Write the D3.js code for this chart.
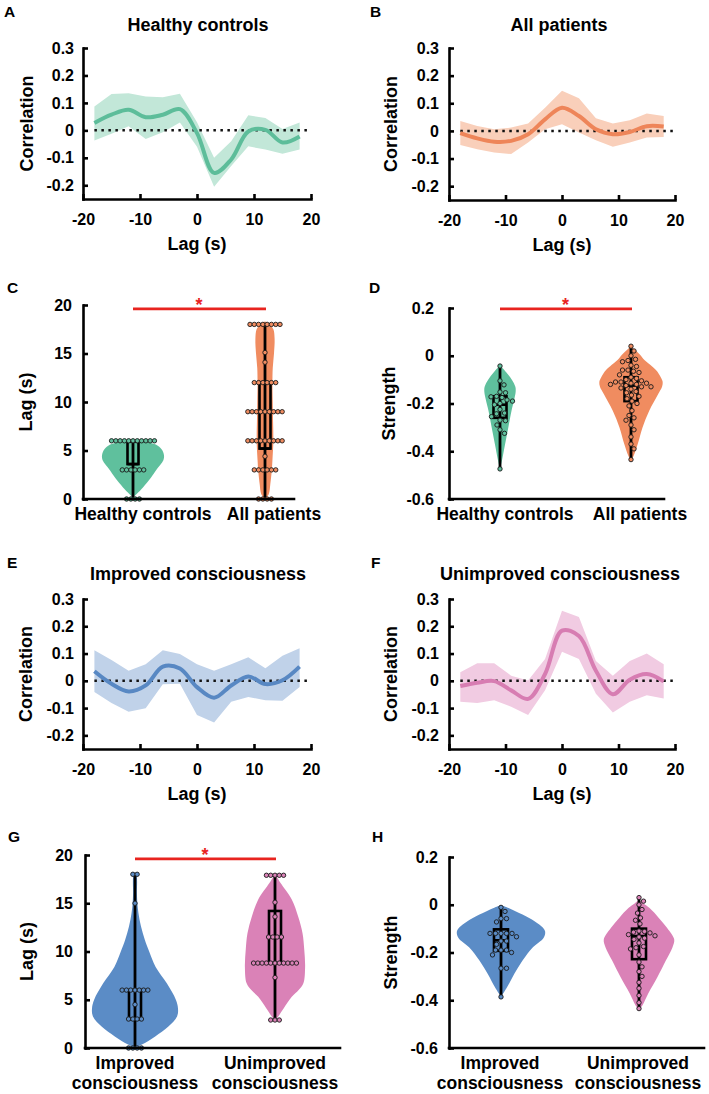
<!DOCTYPE html>
<html><head><meta charset="utf-8">
<script src="https://cdn.jsdelivr.net/npm/d3@7"></script>
<style>body{margin:0;background:#fff}</style>
</head><body>
<script>
// ---------------- DATA ----------------
const lags = [-18,-15,-12,-9,-6,-3,0,3,6,9,12,15,18];
const xTicksLag = [-20,-10,0,10,20];
const yTicksCorr = [-0.2,-0.1,0,0.1,0.2,0.3];

const hcMean  = [0.027,0.057,0.075,0.048,0.057,0.077,-0.01,-0.155,-0.106,-0.004,0.002,-0.044,-0.022];
const hcUpper = [0.087,0.132,0.135,0.123,0.121,0.133,0.03,-0.1,-0.04,0.055,0.045,0.005,0.029];
const hcLower = [-0.037,-0.012,0.015,-0.031,-0.007,0.029,-0.06,-0.205,-0.13,-0.058,-0.07,-0.085,-0.07];

const apMean  = [-0.008,-0.027,-0.039,-0.036,-0.012,0.042,0.084,0.054,0.006,-0.012,-0.004,0.017,0.016];
const apUpper = [0.036,0.018,0.006,0.012,0.027,0.084,0.145,0.118,0.046,0.027,0.039,0.063,0.054];
const apLower = [-0.051,-0.066,-0.078,-0.084,-0.042,0.006,0.024,-0.006,-0.034,-0.057,-0.042,-0.024,-0.022];

const impMean  = [0.035,-0.011,-0.039,-0.017,0.052,0.045,-0.023,-0.062,-0.017,0.016,-0.012,0.002,0.052];
const impUpper = [0.112,0.076,0.037,0.061,0.112,0.098,0.061,0.037,0.061,0.086,0.046,0.092,0.119];
const impLower = [-0.041,-0.081,-0.113,-0.101,-0.013,-0.011,-0.125,-0.153,-0.077,-0.059,-0.071,-0.073,-0.023];

const unMean  = [-0.019,-0.007,-0.001,-0.035,-0.066,0.025,0.184,0.164,0.037,-0.049,0.004,0.025,-0.002];
const unUpper = [0.031,0.064,0.064,0.019,0.001,0.08,0.257,0.234,0.073,0.019,0.073,0.1,0.061];
const unLower = [-0.077,-0.081,-0.071,-0.095,-0.125,-0.035,0.107,0.08,-0.047,-0.116,-0.077,-0.053,-0.065];

const catsCD = ['Healthy controls','All patients'];
const catsGH = ['Improved consciousness','Unimproved consciousness'];
const lagTicks = [0,5,10,15,20];
const strengthTicks = [-0.6,-0.4,-0.2,0,0.2];

// violin profiles: [value, relative density]
const cHcViolin = [[6.1,0],[5.85,0.5],[5.5,0.8],[5,0.95],[4.5,1.0],[4,0.98],[3,0.75],[2.3,0.6],[1.5,0.4],[0.9,0.24],[0.15,0]];
const cApViolin = [[18.3,0],[18,0.15],[17.5,0.27],[16.5,0.31],[15,0.29],[13.5,0.25],[12,0.24],[10,0.25],[8,0.26],[6,0.27],[4,0.24],[3,0.22],[1.5,0.17],[0.5,0.12],[0,0]];
const dHcViolin = [[-0.04,0],[-0.07,0.2],[-0.1,0.37],[-0.13,0.48],[-0.15,0.49],[-0.18,0.45],[-0.23,0.36],[-0.3,0.26],[-0.37,0.16],[-0.44,0.06],[-0.475,0]];
const dApViolin = [[0.04,0],[0.025,0.12],[0.003,0.29],[-0.018,0.42],[-0.06,0.78],[-0.09,0.93],[-0.11,0.99],[-0.13,0.97],[-0.16,0.85],[-0.23,0.57],[-0.3,0.36],[-0.37,0.21],[-0.42,0.08],[-0.44,0]];
const gImpViolin = [[18.2,0],[17.8,0.04],[16,0.045],[15,0.055],[14,0.08],[12.6,0.14],[11.2,0.23],[10,0.33],[8.4,0.48],[6.7,0.74],[5,0.95],[4.1,1.0],[3.3,0.98],[2.2,0.77],[1.2,0.47],[0.35,0.16],[0,0]];
const gUnViolin = [[17.95,0],[17.6,0.06],[17.1,0.13],[15.4,0.39],[13.6,0.54],[11.9,0.64],[10.2,0.68],[8.4,0.7],[6.7,0.66],[6,0.55],[5.3,0.39],[4.1,0.2],[3.3,0.08],[2.85,0]];
const hImpViolin = [[-0.002,0],[-0.011,0.14],[-0.028,0.34],[-0.055,0.64],[-0.083,0.87],[-0.11,1.0],[-0.138,0.97],[-0.179,0.72],[-0.234,0.49],[-0.29,0.3],[-0.345,0.14],[-0.386,0]];
const hUnViolin = [[0.022,0],[0.005,0.1],[-0.014,0.24],[-0.055,0.45],[-0.097,0.64],[-0.145,0.8],[-0.179,0.76],[-0.234,0.61],[-0.303,0.42],[-0.372,0.21],[-0.421,0.08],[-0.44,0]];

// box stats: [low whisker, q1, median, q3, high whisker]
const cHcBox = [0,3.6,3.6,5.9,6];
const cApBox = [0,5.2,5.2,12,18];
const dHcBox = [-0.475,-0.26,-0.205,-0.17,-0.043];
const dApBox = [-0.437,-0.19,-0.125,-0.09,0.04];
const gImpBox = [0,3,3,6,18];
const gUnBox = [2.9,8.8,11.5,14.2,17.9];
const hImpBox = [-0.385,-0.193,-0.149,-0.103,-0.005];
const hUnBox = [-0.435,-0.228,-0.131,-0.1,0.03];

// individual subjects
const cHcDots = [6,6,6,6,6,6,6,6,6,6,6, 3,3,3,3,3,3, 0,0,0,0];
const cApDots = [18,18,18,18,18,18,18,18, 15.1, 14.1, 12,12,12,12,12,12, 9,9,9,9,9,9,9,9,9, 6,6,6,6,6,6,6,6,6, 4.4, 3,3,3,3,3,3, 0,0,0,0];
const dHcDots = [-0.043,-0.105,-0.122,-0.152,-0.155,-0.17,-0.172,-0.175,-0.185,-0.19,-0.2,-0.205,-0.225,-0.24,-0.243,-0.255,-0.27,-0.272,-0.29,-0.31,-0.325,-0.474];
const dApDots = [0.04,0.02,0.0,-0.015,-0.02,-0.025,-0.04,-0.045,-0.06,-0.06,-0.065,-0.07,-0.08,-0.09,-0.095,-0.1,-0.105,-0.11,-0.11,-0.115,-0.115,-0.12,-0.12,-0.125,-0.13,-0.13,-0.135,-0.14,-0.15,-0.155,-0.165,-0.17,-0.18,-0.19,-0.2,-0.21,-0.23,-0.25,-0.26,-0.27,-0.29,-0.31,-0.34,-0.37,-0.39,-0.435];
const gImpDots = [18,18, 15, 6,6,6,6,6,6,6, 4.5, 3,3,3,3, 0,0,0,0];
const gUnDots = [17.9,17.9,17.9,17.9,17.9, 15.1, 13.6, 11.5,11.5,11.5,11.5, 8.8,8.8,8.8,8.8,8.8,8.8,8.8,8.8,8.8,8.8,8.8, 7.3, 2.9,2.9,2.9];
const hImpDots = [-0.011,-0.028,-0.058,-0.058,-0.072,-0.12,-0.12,-0.12,-0.12,-0.12,-0.134,-0.152,-0.152,-0.166,-0.19,-0.19,-0.19,-0.2,-0.21,-0.266,-0.266,-0.386];
const hUnDots = [0.03,0.015,0.0,-0.02,-0.035,-0.055,-0.065,-0.08,-0.11,-0.112,-0.115,-0.118,-0.125,-0.13,-0.135,-0.14,-0.145,-0.16,-0.175,-0.18,-0.185,-0.21,-0.24,-0.26,-0.28,-0.3,-0.325,-0.35,-0.38,-0.41,-0.435];

// ---------------- DRAWING ----------------
const FONT = '"Liberation Sans", Arial, Helvetica, sans-serif';
const COL = {
  green: {line:'#5dbd9a', band:'#c2e7d8', fill:'#5fc09d'},
  orange:{line:'#ee8559', band:'#f9cfba', fill:'#f08c60'},
  blue:  {line:'#5888c3', band:'#c0d2e9', fill:'#5b8cc6'},
  pink:  {line:'#d77db2', band:'#f1cbe2', fill:'#da82b7'}
};
const DOT_R = 2.2;
const fmt = d => String(d);
const svg = d3.select('body').append('svg').attr('width',709).attr('height',1094);

function txt(x,y,s,size,opts={}) {
  const t = svg.append('text').attr('x',x).attr('y',y).text(s)
    .attr('font-family',FONT).attr('font-size',size).attr('font-weight','bold')
    .attr('text-anchor',opts.anchor||'middle').attr('fill',opts.fill||'#000');
  if (opts.rotate) t.attr('transform',`rotate(-90,${x},${y})`);
  return t;
}
function styleAxis(g) {
  g.attr('font-family',FONT).attr('font-size',16).attr('font-weight','bold');
  g.select('.domain').attr('stroke','#000').attr('stroke-width',2.6).attr('stroke-linecap','square');
  g.selectAll('.tick line').attr('stroke','#000').attr('stroke-width',2.6);
  g.selectAll('.tick text').attr('fill','#000');
}

function linePanel(o) {
  const x = d3.scaleLinear().domain([-20,20]).range([o.left,o.right]);
  const y = d3.scaleLinear().domain([-0.25,0.3]).range([o.bottom,o.top]);
  const rows = lags.map((l,i)=>({l, m:o.mean[i], hi:o.upper[i], lo:o.lower[i]}));
  const g = svg.append('g');
  g.append('path').datum(rows)
    .attr('d', d3.area().x(d=>x(d.l)).y0(d=>y(d.lo)).y1(d=>y(d.hi)))
    .attr('fill', o.col.band);
  g.append('line').attr('x1',x(-18)).attr('x2',x(20)).attr('y1',y(0)).attr('y2',y(0))
    .attr('stroke','#111').attr('stroke-width',2.5).attr('stroke-dasharray','2.5,4.5');
  g.append('path').datum(rows)
    .attr('d', d3.line().x(d=>x(d.l)).y(d=>y(d.m)).curve(d3.curveCatmullRom.alpha(0.5)))
    .attr('fill','none').attr('stroke',o.col.line).attr('stroke-width',4);
  const xa = svg.append('g').attr('transform',`translate(0,${o.bottom})`)
    .call(d3.axisBottom(x).tickValues(xTicksLag).tickFormat(fmt).tickSizeInner(-5).tickSizeOuter(0).tickPadding(15));
  styleAxis(xa);
  const ya = svg.append('g').attr('transform',`translate(${o.left},0)`)
    .call(d3.axisLeft(y).tickValues(yTicksCorr).tickFormat(fmt).tickSizeInner(-5).tickSizeOuter(0).tickPadding(o.pad));
  styleAxis(ya);
  txt(o.titleX, o.titleY, o.title, 18);
  txt(x(0), o.bottom+51, 'Lag (s)', 18);
  txt(o.ylabX, (o.top+o.bottom)/2, 'Correlation', 18, {rotate:true});
  txt(o.letterX, o.letterY, o.letter, 15.5, {anchor:'start'});
}

function swarm(values, y, cx, r, rowMode) {
  const placed = [];
  const sorted = values.slice().sort((a,b)=>b-a);
  if (rowMode) {
    d3.groups(sorted, v=>v).forEach(([v, arr]) => {
      arr.forEach((_,i)=>placed.push({x: cx + (i-(arr.length-1)/2)*1.95*r, y: y(v)}));
    });
  } else {
    sorted.forEach(v => {
      const py = y(v);
      for (let k=0; k<400; k++) {
        const off = (k%2 ? 1 : -1) * Math.ceil(k/2) * 0.5;
        const px = cx + off;
        if (placed.every(p => (p.x-px)**2 + (p.y-py)**2 >= (2*r+1.0)**2)) { placed.push({x:px, y:py}); break; }
      }
    });
  }
  return placed;
}

function violinPanel(o) {
  const y = d3.scaleLinear().domain(o.domain).range([o.bottom,o.top]);
  const x = d3.scalePoint().domain(o.cats).range(o.catRange);
  const w = d3.scaleLinear().domain([0,1]).range([0,o.maxHalf]);
  const g = svg.append('g');
  o.groups.forEach((gr,i) => {
    const cx = x(o.cats[i]);
    g.append('path').datum(gr.violin)
      .attr('d', d3.area().y(d=>y(d[0])).x0(d=>cx-w(d[1])).x1(d=>cx+w(d[1])).curve(d3.curveCatmullRom.alpha(0.5)))
      .attr('fill', gr.col.fill);
    const [lo,q1,med,q3,hi] = gr.box;
    g.append('line').attr('x1',cx).attr('x2',cx).attr('y1',y(lo)).attr('y2',y(hi))
      .attr('stroke','#000').attr('stroke-width',2.8);
    g.append('rect').attr('x',cx-o.boxW/2).attr('y',y(q3)).attr('width',o.boxW).attr('height',y(q1)-y(q3))
      .attr('fill','none').attr('stroke','#000').attr('stroke-width',2.6);
    g.append('line').attr('x1',cx-o.boxW/2).attr('x2',cx+o.boxW/2).attr('y1',y(med)).attr('y2',y(med))
      .attr('stroke','#000').attr('stroke-width',2.6);
    const pts = swarm(gr.dots, y, cx, DOT_R, o.rowMode);
    g.selectAll(null).data(pts).join('circle')
      .attr('cx',d=>d.x).attr('cy',d=>d.y).attr('r',DOT_R)
      .attr('fill',gr.col.fill).attr('stroke','#1a1a1a').attr('stroke-width',0.9);
  });
  const ya = svg.append('g').attr('transform',`translate(${o.axisX},0)`)
    .call(d3.axisLeft(y).tickValues(o.ticks).tickFormat(fmt).tickSizeInner(-5).tickSizeOuter(0).tickPadding(o.pad));
  styleAxis(ya);
  svg.append('line').attr('x1',o.axisX).attr('x2',o.xEnd).attr('y1',o.bottom).attr('y2',o.bottom)
    .attr('stroke','#000').attr('stroke-width',2.6).attr('stroke-linecap','square');
  o.cats.forEach((c,i) => {
    const lx = x(c) + o.labelDx[i];
    if (o.twoLine) {
      const parts = c.split(' ');
      txt(lx, o.bottom+21, parts[0], 17.5);
      txt(lx, o.bottom+41, parts[1], 17.5);
    } else {
      txt(lx, o.bottom+21, c, 17.5);
    }
  });
  if (o.sig !== undefined) {
    const sy = y(o.sig);
    svg.append('line').attr('x1',x(o.cats[0])).attr('x2',x(o.cats[1])+1).attr('y1',sy).attr('y2',sy)
      .attr('stroke','#e8241f').attr('stroke-width',2.8);
    txt((x(o.cats[0])+x(o.cats[1]))/2, sy+2, '*', 18, {fill:'#e8241f'});
  }
  txt(o.ylabX, (o.top+o.bottom)/2, o.ylab, 18, {rotate:true});
  txt(o.letterX, o.letterY, o.letter, 15.5, {anchor:'start'});
}

// A
linePanel({left:83,right:311,top:48,bottom:199,pad:9,col:COL.green,mean:hcMean,upper:hcUpper,lower:hcLower,
  title:'Healthy controls',titleX:198,titleY:31,ylabX:33,letter:'A',letterX:4,letterY:17});
// B
linePanel({left:449,right:675,top:48,bottom:200,pad:10,col:COL.orange,mean:apMean,upper:apUpper,lower:apLower,
  title:'All patients',titleX:559,titleY:31,ylabX:397,letter:'B',letterX:370,letterY:17});
// E
linePanel({left:83,right:311,top:599,bottom:749,pad:9,col:COL.blue,mean:impMean,upper:impUpper,lower:impLower,
  title:'Improved consciousness',titleX:198,titleY:580,ylabX:32,letter:'E',letterX:7,letterY:568});
// F
linePanel({left:449,right:675,top:599,bottom:749,pad:10,col:COL.pink,mean:unMean,upper:unUpper,lower:unLower,
  title:'Unimproved consciousness',titleX:560,titleY:580,ylabX:397,letter:'F',letterX:371,letterY:568});

// C
violinPanel({axisX:83,xEnd:294,top:305,bottom:499,domain:[0,20],ticks:lagTicks,pad:11,
  cats:catsCD,catRange:[133,265],labelDx:[10,9],maxHalf:31,boxW:11,rowMode:true,sig:19.6,
  ylab:'Lag (s)',ylabX:32,letter:'C',letterX:7,letterY:293,
  groups:[{violin:cHcViolin,box:cHcBox,dots:cHcDots,col:COL.green},{violin:cApViolin,box:cApBox,dots:cApDots,col:COL.orange}]});
// D
violinPanel({axisX:449,xEnd:664,top:308,bottom:499,domain:[-0.6,0.2],ticks:strengthTicks,pad:15,
  cats:catsCD,catRange:[500,631],labelDx:[5,9],maxHalf:32,boxW:13,rowMode:false,sig:0.196,
  ylab:'Strength',ylabX:395,letter:'D',letterX:369,letterY:293,
  groups:[{violin:dHcViolin,box:dHcBox,dots:dHcDots,col:COL.green},{violin:dApViolin,box:dApBox,dots:dApDots,col:COL.orange}]});
// G
violinPanel({axisX:85,xEnd:340,top:855,bottom:1048,domain:[0,20],ticks:lagTicks,pad:12,
  cats:catsGH,catRange:[135,275],labelDx:[0,0],twoLine:true,maxHalf:43,boxW:12,rowMode:true,sig:19.6,
  ylab:'Lag (s)',ylabX:33,letter:'G',letterX:8,letterY:842,
  groups:[{violin:gImpViolin,box:gImpBox,dots:gImpDots,col:COL.blue},{violin:gUnViolin,box:gUnBox,dots:gUnDots,col:COL.pink}]});
// H
violinPanel({axisX:449,xEnd:704,top:857,bottom:1048,domain:[-0.6,0.2],ticks:strengthTicks,pad:11,
  cats:catsGH,catRange:[501,639],labelDx:[-1,-1],twoLine:true,maxHalf:44,boxW:14,rowMode:false,
  ylab:'Strength',ylabX:397,letter:'H',letterX:372,letterY:842,
  groups:[{violin:hImpViolin,box:hImpBox,dots:hImpDots,col:COL.blue},{violin:hUnViolin,box:hUnBox,dots:hUnDots,col:COL.pink}]});
</script>
</body></html>
